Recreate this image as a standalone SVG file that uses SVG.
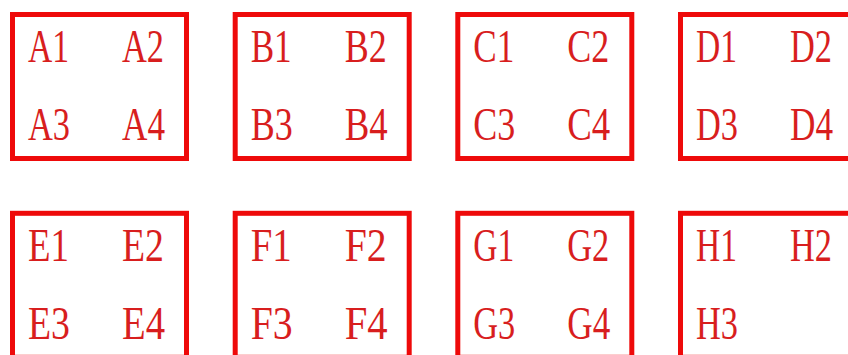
<svg xmlns="http://www.w3.org/2000/svg" width="848" height="355" viewBox="0 0 848 355">
<style>
.box{fill:none;stroke:#ee0a0a;stroke-width:5}
.t{font-family:"Liberation Serif","DejaVu Serif",serif;font-size:46px;fill:#d81e1e}
</style>
<rect width="848" height="355" fill="#ffffff"/>
<g id="A"><rect class="box" x="12.5" y="14.5" width="174" height="144"/>
<text class="t" x="28" y="62" textLength="41" lengthAdjust="spacingAndGlyphs">A1</text>
<text class="t" x="122" y="62" textLength="42" lengthAdjust="spacingAndGlyphs">A2</text>
<text class="t" x="28" y="140" textLength="42" lengthAdjust="spacingAndGlyphs">A3</text>
<text class="t" x="122" y="140" textLength="43" lengthAdjust="spacingAndGlyphs">A4</text></g>
<g id="B"><rect class="box" x="235.2" y="14.5" width="174" height="144"/>
<text class="t" x="250.7" y="62" textLength="41" lengthAdjust="spacingAndGlyphs">B1</text>
<text class="t" x="344.7" y="62" textLength="42" lengthAdjust="spacingAndGlyphs">B2</text>
<text class="t" x="250.7" y="140" textLength="42" lengthAdjust="spacingAndGlyphs">B3</text>
<text class="t" x="344.7" y="140" textLength="43" lengthAdjust="spacingAndGlyphs">B4</text></g>
<g id="C"><rect class="box" x="457.8" y="14.5" width="174" height="144"/>
<text class="t" x="473.3" y="62" textLength="41" lengthAdjust="spacingAndGlyphs">C1</text>
<text class="t" x="567.3" y="62" textLength="42" lengthAdjust="spacingAndGlyphs">C2</text>
<text class="t" x="473.3" y="140" textLength="42" lengthAdjust="spacingAndGlyphs">C3</text>
<text class="t" x="567.3" y="140" textLength="43" lengthAdjust="spacingAndGlyphs">C4</text></g>
<g id="D"><rect class="box" x="680.5" y="14.5" width="174" height="144"/>
<text class="t" x="696" y="62" textLength="41" lengthAdjust="spacingAndGlyphs">D1</text>
<text class="t" x="790" y="62" textLength="42" lengthAdjust="spacingAndGlyphs">D2</text>
<text class="t" x="696" y="140" textLength="42" lengthAdjust="spacingAndGlyphs">D3</text>
<text class="t" x="790" y="140" textLength="43" lengthAdjust="spacingAndGlyphs">D4</text></g>
<g id="E"><rect class="box" x="12.5" y="213.3" width="174" height="144"/>
<text class="t" x="28" y="260.8" textLength="41" lengthAdjust="spacingAndGlyphs">E1</text>
<text class="t" x="122" y="260.8" textLength="42" lengthAdjust="spacingAndGlyphs">E2</text>
<text class="t" x="28" y="339" textLength="42" lengthAdjust="spacingAndGlyphs">E3</text>
<text class="t" x="122" y="339" textLength="43" lengthAdjust="spacingAndGlyphs">E4</text></g>
<g id="F"><rect class="box" x="235.2" y="213.3" width="174" height="144"/>
<text class="t" x="250.7" y="260.8" textLength="41" lengthAdjust="spacingAndGlyphs">F1</text>
<text class="t" x="344.7" y="260.8" textLength="42" lengthAdjust="spacingAndGlyphs">F2</text>
<text class="t" x="250.7" y="339" textLength="42" lengthAdjust="spacingAndGlyphs">F3</text>
<text class="t" x="344.7" y="339" textLength="43" lengthAdjust="spacingAndGlyphs">F4</text></g>
<g id="G"><rect class="box" x="457.8" y="213.3" width="174" height="144"/>
<text class="t" x="473.3" y="260.8" textLength="41" lengthAdjust="spacingAndGlyphs">G1</text>
<text class="t" x="567.3" y="260.8" textLength="42" lengthAdjust="spacingAndGlyphs">G2</text>
<text class="t" x="473.3" y="339" textLength="42" lengthAdjust="spacingAndGlyphs">G3</text>
<text class="t" x="567.3" y="339" textLength="43" lengthAdjust="spacingAndGlyphs">G4</text></g>
<g id="H"><rect class="box" x="680.5" y="213.3" width="174" height="144"/>
<text class="t" x="696" y="260.8" textLength="41" lengthAdjust="spacingAndGlyphs">H1</text>
<text class="t" x="790" y="260.8" textLength="42" lengthAdjust="spacingAndGlyphs">H2</text>
<text class="t" x="696" y="339" textLength="42" lengthAdjust="spacingAndGlyphs">H3</text></g>
<g id="connectors"/>
</svg>
